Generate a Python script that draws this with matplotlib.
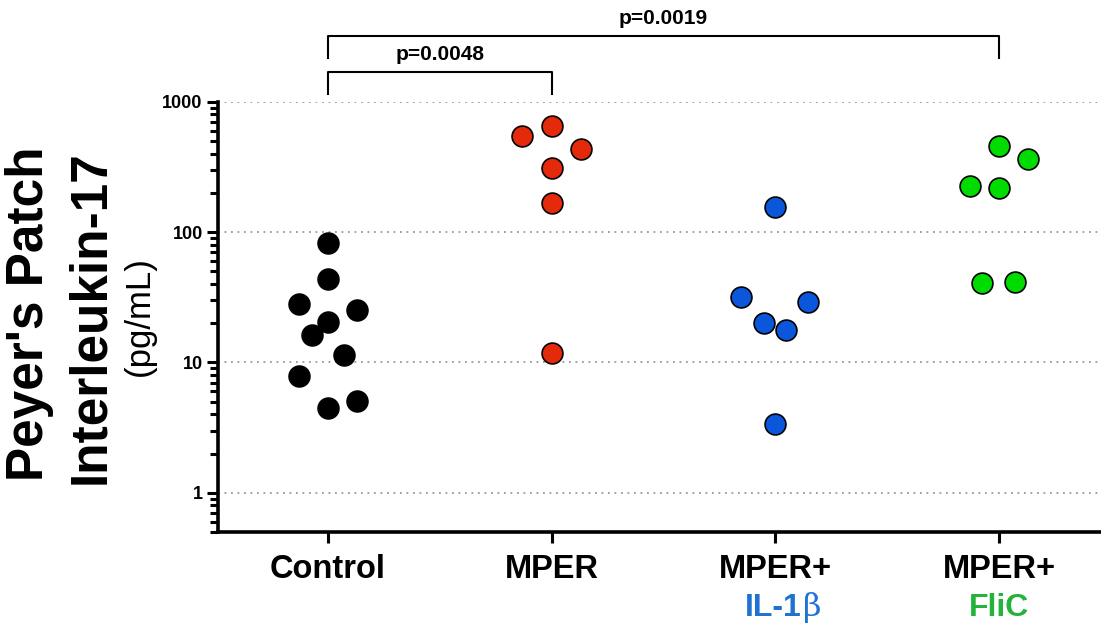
import numpy as np
import matplotlib as mpl
import matplotlib.pyplot as plt
from matplotlib.ticker import LogLocator, NullFormatter, FixedLocator

# groups along the x axis
groups = ['Control', 'MPER', 'MPER+', 'MPER+']
subtitles = ['', '', 'IL-1', 'FliC']
subtitle_colors = ['black', 'black', '#1f72d2', '#22b43a']
dot_colors = ['black', '#e42a0b', '#0a57dc', '#00dc00']

# IL-17 values (pg/mL)
control = [82.6, 43.3, 27.9, 25.1, 20.6, 16.2, 11.4, 7.8, 5.08, 4.44]
mper = [650, 546, 432, 309, 168, 11.8]
mper_il1b = [154.6, 31.5, 29.2, 20.2, 17.8, 3.37]
mper_flic = [458, 364, 224, 217, 40.8, 41.3]

# horizontal scatter of each dot inside its column (category units)
control_jit = [0, 0, -0.13, 0.13, 0, -0.072, 0.072, -0.13, 0.13, 0]
mper_jit = [0, -0.13, 0.13, 0, 0, 0]
il1b_jit = [0, -0.152, 0.148, -0.052, 0.049, 0]
flic_jit = [0, 0.127, -0.13, 0, -0.075, 0.072]

# significance brackets: (group a, group b, label)
brackets = [(0, 1, 'p=0.0048'), (0, 3, 'p=0.0019')]

values = [control, mper, mper_il1b, mper_flic]
jitters = [control_jit, mper_jit, il1b_jit, flic_jit]

mpl.rcParams['font.family'] = ['Liberation Sans', 'DejaVu Sans']

fig = plt.figure(figsize=(11.01, 6.28), dpi=100)
ax = fig.add_axes([0.198, 0.1529, 0.802, 0.685])

for i, (vals, jit) in enumerate(zip(values, jitters)):
    x = i + np.array(jit)
    ax.plot(x, vals, 'o', ms=15, mfc=dot_colors[i], mec='black', mew=1.2,
            clip_on=False, zorder=3)

ax.set_yscale('log')
ax.set_ylim(0.5, 1000)
ax.set_xlim(-0.49, 3.455)

ax.yaxis.set_major_locator(FixedLocator([1, 10, 100, 1000]))
ax.yaxis.set_minor_locator(LogLocator(base=10, subs=np.arange(2, 10), numticks=20))
ax.yaxis.set_minor_formatter(NullFormatter())
ax.set_yticks([1, 10, 100, 1000])
ax.set_yticklabels(['1', '10', '100', '1000'], fontweight='bold', fontsize=13)

ax.set_xticks(range(len(groups)))
ax.set_xticklabels(groups, fontweight='bold', fontsize=23.5)

ax.grid(axis='y', which='major', color='#999999', lw=1.3,
        linestyle=(0, (1.0, 2.6)))
ax.set_axisbelow(True)

for side in ['top', 'right']:
    ax.spines[side].set_visible(False)
for side in ['left', 'bottom']:
    ax.spines[side].set_linewidth(2.6)
ax.tick_params(axis='both', which='major', length=8, width=2.2, pad=3)
ax.tick_params(axis='y', which='minor', length=5.5, width=2.2)
ax.tick_params(axis='x', pad=8)

# second line of the tick labels, coloured
trans = mpl.transforms.blended_transform_factory(ax.transData, fig.transFigure)
for i, sub in enumerate(subtitles):
    if not sub:
        continue
    if sub == 'IL-1':
        t = ax.text(i - 0.01, 1 - 608 / 628, sub, transform=trans, ha='center',
                    va='center', fontsize=23, fontweight='bold',
                    color=subtitle_colors[i])
        ax.annotate('\u03b2', xy=(1, 0), xycoords=t, xytext=(1, 0),
                    textcoords='offset points', va='bottom', ha='left',
                    fontsize=23, color=subtitle_colors[i],
                    family=['DejaVu Serif'])
    else:
        ax.text(i, 1 - 608 / 628, sub, transform=trans, ha='center',
                va='center', fontsize=23, fontweight='bold',
                color=subtitle_colors[i])

# y label: two bold lines and the unit
fig.text(30 / 1101, 1 - 314 / 628, "Peyer's Patch", rotation=90,
         ha='center', va='center', fontsize=37, fontweight='bold')
fig.text(91 / 1101, 1 - 317 / 628, 'Interleukin-17', rotation=90,
         ha='center', va='center', fontsize=37, fontweight='bold')
fig.text(139 / 1101, 1 - 316 / 628, '(pg/mL)', rotation=90,
         ha='center', va='center', fontsize=25)

# significance brackets above the axes (figure y in pixels)
bracket_levels = {(0, 1): (72, 94, 55), (0, 3): (36, 58, 18)}
for a, b, label in brackets:
    top, bottom, ty = bracket_levels[(a, b)]
    y0 = 1 - bottom / 628
    y1 = 1 - top / 628
    ax.plot([a, a, b, b], [y0, y1, y1, y0], color='black', lw=1.5,
            transform=trans, clip_on=False)
    ax.text((a + b) / 2, 1 - ty / 628, label, transform=trans, ha='center',
            va='center', fontsize=15, fontweight='bold')

fig.savefig('out.png', dpi=100)
